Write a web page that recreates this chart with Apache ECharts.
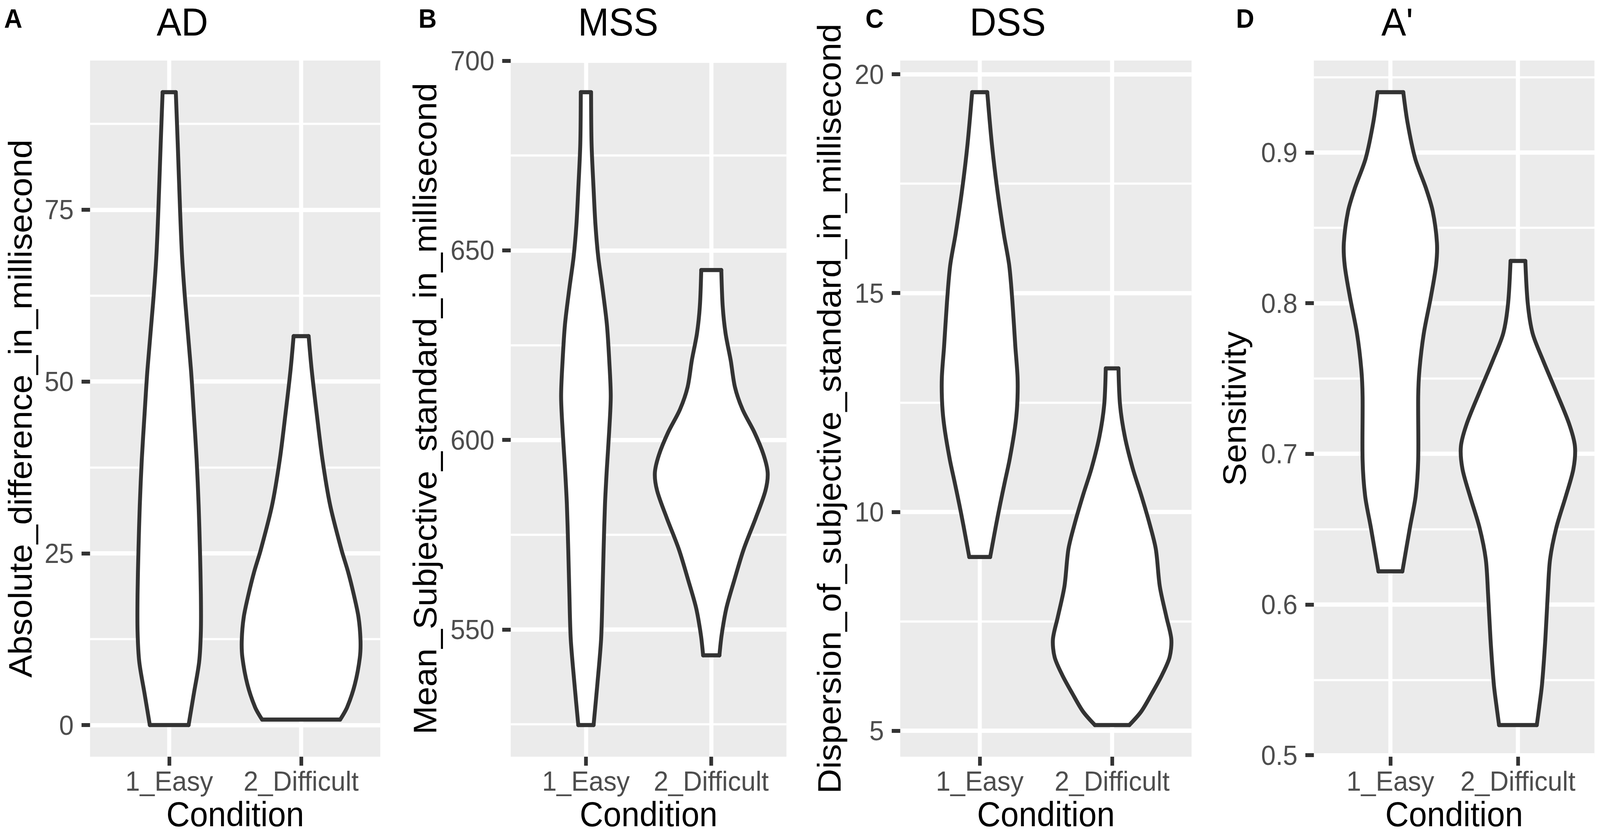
<!DOCTYPE html>
<html>
<head>
<meta charset="utf-8">
<title>Violin plots AD MSS DSS A'</title>
<script src="https://cdn.jsdelivr.net/npm/echarts@6/dist/echarts.min.js"></script>
<style>
  html, body { margin: 0; padding: 0; background: #fff; overflow: hidden; }
  #main { width: 4317px; height: 2140px; transform-origin: 0 0; }
</style>
</head>
<body>
<div id="main"></div>
<script>
// categories and labels
var conditions = ['1_Easy', '2_Difficult'];
var panelLetters = ['A', 'B', 'C', 'D'];
var panelTitles = ['AD', 'MSS', 'DSS', "A'"];
var yTitles = [
  'Absolute_difference_in_millisecond',
  'Mean_Subjective_standard_in_millisecond',
  'Dispersion_of_subjective_standard_in_millisecond',
  'Sensitivity'
];

// violin outlines: y values and half widths (in category units), bottom to top
// A - AD
var adEasyY = [0, 4.6, 9.2, 13.7, 19, 25.5, 32, 38.6, 45.2, 51.7, 61.5, 68, 74.6, 84.4, 92.1];
var adEasyW = [0.147, 0.187, 0.227, 0.240, 0.240, 0.233, 0.223, 0.208, 0.187, 0.165, 0.122, 0.098, 0.083, 0.065, 0.050];
var adDiffY = [0.8, 2.6, 5.9, 9.8, 12.4, 15.7, 19, 22.3, 25.5, 32, 38.6, 45.2, 51.7, 56.6];
var adDiffW = [0.296, 0.349, 0.407, 0.445, 0.450, 0.435, 0.399, 0.356, 0.306, 0.220, 0.162, 0.119, 0.080, 0.057];
// B - MSS
var mssEasyY = [524.8, 535.5, 547.4, 559.3, 571.1, 583, 592.5, 602, 611.5, 621, 630.5, 640, 648.3, 656.7, 666.2, 678, 691.7];
var mssEasyW = [0.061, 0.091, 0.121, 0.132, 0.141, 0.152, 0.167, 0.185, 0.198, 0.186, 0.167, 0.132, 0.098, 0.076, 0.061, 0.045, 0.041];
var mssDiffY = [543.2, 548.6, 555.7, 562.8, 571.1, 579.5, 586.6, 591.3, 596.1, 602, 608, 613.9, 621, 628.1, 635.3, 644.8];
var mssDiffW = [0.065, 0.083, 0.121, 0.182, 0.258, 0.356, 0.432, 0.450, 0.417, 0.344, 0.250, 0.189, 0.155, 0.114, 0.091, 0.080];
// C - DSS
var dssEasyY = [8.97, 9.66, 10.17, 10.69, 11.2, 11.92, 12.44, 13.06, 13.78, 14.8, 15.63, 16.35, 17.38, 18.4, 19.59];
var dssEasyW = [0.079, 0.121, 0.154, 0.190, 0.226, 0.266, 0.283, 0.286, 0.269, 0.247, 0.223, 0.182, 0.132, 0.092, 0.057];
var dssDiffY = [5.13, 5.44, 5.85, 6.27, 6.68, 7.09, 7.6, 8.3, 9.15, 9.76, 10.38, 11.0, 11.72, 12.44, 13.28];
var dssDiffW = [0.130, 0.220, 0.300, 0.376, 0.434, 0.447, 0.410, 0.360, 0.330, 0.280, 0.220, 0.155, 0.096, 0.060, 0.048];
// D - A'
var apEasyY = [0.622, 0.651, 0.672, 0.696, 0.738, 0.756, 0.780, 0.804, 0.825, 0.840, 0.861, 0.876, 0.896, 0.920, 0.940];
var apEasyW = [0.094, 0.153, 0.198, 0.218, 0.218, 0.228, 0.262, 0.317, 0.358, 0.365, 0.332, 0.280, 0.194, 0.134, 0.101];
var apDiffY = [0.520, 0.532, 0.547, 0.577, 0.607, 0.630, 0.651, 0.672, 0.690, 0.705, 0.720, 0.741, 0.762, 0.780, 0.800, 0.828];
var apDiffW = [0.148, 0.167, 0.189, 0.215, 0.234, 0.252, 0.301, 0.376, 0.435, 0.447, 0.401, 0.301, 0.197, 0.115, 0.077, 0.058];

// y axis breaks
var adTicks = [0, 25, 50, 75];
var adMinor = [12.5, 37.5, 62.5, 87.5];
var mssTicks = [550, 600, 650, 700];
var mssMinor = [525, 575, 625, 675];
var dssTicks = [5, 10, 15, 20];
var dssMinor = [7.5, 12.5, 17.5];
var apTicks = [0.5, 0.6, 0.7, 0.8, 0.9];
var apMinor = [0.55, 0.65, 0.75, 0.85, 0.95];

var panels = [
  { ys: [adEasyY, adDiffY], ws: [adEasyW, adDiffW], ticks: adTicks, minor: adMinor },
  { ys: [mssEasyY, mssDiffY], ws: [mssEasyW, mssDiffW], ticks: mssTicks, minor: mssMinor },
  { ys: [dssEasyY, dssDiffY], ws: [dssEasyW, dssDiffW], ticks: dssTicks, minor: dssMinor },
  { ys: [apEasyY, apDiffY], ws: [apEasyW, apDiffW], ticks: apTicks, minor: apMinor }
];

// layout (pixels, for a 4317 x 2140 page)
var gridLeft = [243, 1378, 2429, 3545];
var gridWidth = [783, 744, 786, 757];
var gridTop = 155;
var gridHeight = 1782;
var yNameGap = [144, 187, 148, 171];
var titleX = [487, 1663, 2714, 3765];
var letterX = [6, 1124, 2330, 3330];

var FONT = 'Liberation Sans, Arial, Helvetica, sans-serif';

// the window may be narrower than the page, squeeze it to fit
var el = document.getElementById('main');
var fit = Math.min(1, window.innerWidth / 4317);
if (fit < 1) el.style.transform = 'scale(' + fit + ',1)';

var myChart = echarts.init(el, null, { renderer: 'svg' });

function violinItem(p) {
  return function (params, api) {
    var k = params.dataIndex;
    var ys = p.ys[k], ws = p.ws[k], c = k + 1;
    var left = [], right = [];
    for (var i = 0; i < ys.length; i++) {
      left.push(api.coord([c - ws[i], ys[i]]));
      right.push(api.coord([c + ws[i], ys[i]]));
    }
    var n = ys.length - 1;
    var outline = left.concat(right.slice().reverse());
    var line = { stroke: '#333333', lineWidth: 10.5, fill: null, lineJoin: 'round', lineCap: 'round' };
    return {
      type: 'group',
      children: [
        { type: 'polygon', shape: { points: outline }, style: { fill: '#ffffff' } },
        { type: 'polyline', shape: { points: left, smooth: 0.3 }, style: line },
        { type: 'polyline', shape: { points: right, smooth: 0.3 }, style: line },
        { type: 'line', shape: { x1: left[0][0], y1: left[0][1], x2: right[0][0], y2: right[0][1] }, style: line },
        { type: 'line', shape: { x1: left[n][0], y1: left[n][1], x2: right[n][0], y2: right[n][1] }, style: line }
      ]
    };
  };
}

var grids = [], xAxes = [], yAxes = [], series = [], titles = [];

panels.forEach(function (p, i) {
  // ggplot style 5% expansion of the data range
  var all = p.ys[0].concat(p.ys[1]);
  var lo = Math.min.apply(null, all), hi = Math.max.apply(null, all);
  var pad = (hi - lo) * 0.05;

  grids.push({
    left: gridLeft[i], top: gridTop, width: gridWidth[i], height: gridHeight,
    show: true, backgroundColor: '#EBEBEB', borderWidth: 0,
    containLabel: false, outerBoundsMode: 'none'
  });

  xAxes.push({
    type: 'value', gridIndex: i, min: 0.4, max: 2.6,
    name: 'Condition', nameLocation: 'middle', nameGap: 103,
    nameTextStyle: { fontFamily: FONT, fontSize: 88, color: '#000' },
    axisLine: { show: false, onZero: false },
    axisTick: { show: true, length: 23, customValues: [1, 2], lineStyle: { color: '#333333', width: 10 } },
    axisLabel: {
      customValues: [1, 2], margin: 27, fontFamily: FONT, fontSize: 71, color: '#4D4D4D',
      formatter: function (v) { return conditions[Math.round(v) - 1]; }
    },
    splitLine: { show: true, lineStyle: { color: '#ffffff', width: 11 } }
  });

  yAxes.push({
    type: 'value', gridIndex: i, min: lo - pad, max: hi + pad, position: 'left',
    name: yTitles[i], nameLocation: 'middle', nameGap: yNameGap[i],
    nameTextStyle: { fontFamily: FONT, fontSize: 88, color: '#000' },
    axisLine: { show: false, onZero: false },
    axisTick: { show: true, length: 23, customValues: p.ticks, lineStyle: { color: '#333333', width: 10 } },
    axisLabel: { customValues: p.ticks, margin: 44, fontFamily: FONT, fontSize: 71, color: '#4D4D4D' },
    splitLine: { show: true, lineStyle: { color: '#ffffff', width: 11 } }
  });
  // minor grid lines
  yAxes.push({
    type: 'value', gridIndex: i, min: lo - pad, max: hi + pad, position: 'right',
    axisLine: { show: false, onZero: false },
    axisTick: { show: false, customValues: p.minor },
    axisLabel: { show: false },
    splitLine: { show: true, lineStyle: { color: '#ffffff', width: 5.5 } }
  });

  series.push({
    type: 'custom', name: panelTitles[i],
    xAxisIndex: i, yAxisIndex: i * 2,
    renderItem: violinItem(p),
    data: conditions.map(function (c, k) { return [k + 1, p.ys[k][0]]; }),
    silent: true, z: 5
  });

  titles.push({
    text: panelTitles[i], left: titleX[i], top: 2, textAlign: 'center',
    textStyle: { fontFamily: FONT, fontSize: 100, fontWeight: 'normal', color: '#000' }
  });
  titles.push({
    text: panelLetters[i], left: letterX[i], top: 8,
    textStyle: { fontFamily: FONT, fontSize: 68, fontWeight: 'bold', color: '#000' }
  });
});

var option = {
  backgroundColor: '#ffffff',
  animation: false,
  title: titles,
  grid: grids,
  xAxis: xAxes,
  yAxis: yAxes,
  series: series
};

myChart.setOption(option);
</script>
</body>
</html>
